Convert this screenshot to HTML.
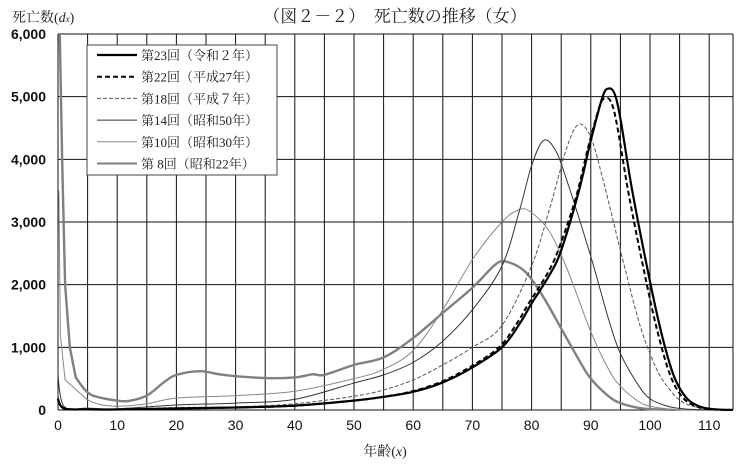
<!DOCTYPE html>
<html><head><meta charset="utf-8"><style>
body{margin:0;background:#fff;}
svg{display:block;font-family:"Liberation Sans","Noto Sans CJK JP",sans-serif;}
</style></head><body>
<svg id="s" width="743" height="464" xmlns="http://www.w3.org/2000/svg">
<g id="grid"></g>
<g id="curves"></g>
<text x="12" y="22" font-size="14" font-family="'Liberation Serif','Noto Serif CJK SC',serif" fill="#222">死亡数(<tspan font-style="italic">d</tspan><tspan font-style="italic" font-size="9">x</tspan>)</text>
<text x="395" y="22" font-size="17" text-anchor="middle" font-family="'Liberation Serif','Noto Serif CJK SC',serif" fill="#222">（図２－２）　死亡数の推移（女）</text>
<text x="385" y="456" font-size="14" text-anchor="middle" font-family="'Liberation Serif','Noto Serif CJK SC',serif" fill="#222">年齢(<tspan font-style="italic">x</tspan>)</text>
<g id="legend">
<rect x="87" y="45" width="190" height="130" fill="#fff" stroke="#444" stroke-width="1"/>
</g>
</svg>
<script>
var X0=58,PX=5.92,Y0=410,PY=376/6000;
function px(a){return X0+a*PX}function py(v){return Y0-v*PY}
var ns="http://www.w3.org/2000/svg";
function el(p,t,a){var e=document.createElementNS(ns,t);for(var k in a)e.setAttribute(k,a[k]);p.appendChild(e);return e}
var g=document.getElementById('grid');
for(var a=0;a<=113;a+=5){el(g,'line',{x1:px(a),x2:px(a),y1:34,y2:410,stroke:'#111','stroke-width':1});}
el(g,'line',{x1:733,x2:733,y1:34,y2:410,stroke:'#111','stroke-width':1});
for(var v=0;v<=6000;v+=1000){el(g,'line',{x1:58,x2:733,y1:py(v),y2:py(v),stroke:'#111','stroke-width':1});
var t=el(g,'text',{x:46,y:py(v)+5,'font-size':14,'text-anchor':'end',fill:'#111','font-weight':'bold'});t.textContent=v==0?'0':(v/1000)+',000';}
for(var a=0;a<=110;a+=10){var t=el(g,'text',{x:px(a),y:430,'font-size':14,'text-anchor':'middle',fill:'#111'});t.textContent=a;}
function path(d){var p=d.map(function(q){return[px(q[0]),py(q[1])]});var s='M'+p[0][0]+','+p[0][1];
for(var i=0;i<p.length-1;i++){var p0=p[i-1]||p[i],p1=p[i],p2=p[i+1],p3=p[i+2]||p2;
var c1=[p1[0]+(p2[0]-p0[0])/6,p1[1]+(p2[1]-p0[1])/6],c2=[p2[0]-(p3[0]-p1[0])/6,p2[1]-(p3[1]-p1[1])/6];
if(i==0){c1=p1;}s+=' C'+c1+' '+c2+' '+p2;}return s}
function poly(d){return 'M'+d.map(function(q){return px(q[0])+','+py(q[1])}).join(' L')}
var R2=[[0,180],[1,25],[5,10],[10,8],[20,25],[30,40],[40,70],[50,150],[55,210],[60,290],[65,440],[70,680],[75,1000],[78,1380],[80,1700],[83,2150],[85,2550],[88,3500],[90,4300],[92,5000],[93,5130],[94,5050],[95,4650],[97,3500],[100,2050],[102,1200],[104,550],[106,210],[108,70],[110,20],[112,5],[114,1]];
var H27=R2.map(function(q){var a=q[0];if(a>=60){a=a-0.5}return[a,q[1]*(q[0]>=88?0.97:1)]});
var H7=[[0,250],[1,35],[5,15],[10,10],[20,40],[30,50],[40,100],[50,220],[55,320],[60,480],[65,720],[70,1000],[75,1350],[80,2300],[83,3200],[86,4200],[88,4560],[90,4350],[92,3700],[95,2550],[98,1450],[100,900],[102,500],[105,160],[108,40],[111,8],[114,1]];
var S50=[[0,600],[1,60],[5,30],[10,20],[20,80],[30,110],[40,170],[50,430],[55,560],[60,760],[65,1100],[70,1600],[75,2300],[78,3200],[80,3900],[82,4300],[84,4150],[86,3650],[90,2450],[93,1450],[95,900],[98,400],[100,180],[103,60],[106,15],[110,2]];
var S30i=[[0.15,3500],[0.4,1200],[1.2,480],[5,160]];
var S30=[[5,160],[7,90],[10,60],[15,100],[20,190],[30,230],[40,300],[50,500],[55,650],[60,950],[65,1600],[70,2400],[75,3000],[78,3200],[80,3150],[83,2850],[86,2250],[90,1250],[93,650],[95,380],[98,140],[100,60],[104,10],[108,1]];
var S22i=[[0.3,6000],[0.5,5000],[0.7,4000],[1.2,2000],[2,1000],[3,520]];
var S22=[[3,520],[5,280],[7,200],[10,150],[12,145],[15,230],[18,450],[20,560],[24,620],[28,560],[35,510],[40,520],[43,570],[45,560],[50,720],[55,840],[60,1150],[65,1550],[70,1950],[74,2330],[76,2360],[79,2200],[82,1800],[85,1300],[88,800],[90,500],[93,220],[95,110],[98,35],[100,15],[104,2]];
var c=document.getElementById('curves');
var st=[[poly(S22i)+' '+path(S22).replace('M',' L'),'#808080',2.4,''],[poly(S30i)+' '+path(S30).replace('M',' L'),'#888',1,''],[path(S50),'#333',1,''],[path(H7),'#555',1,'4,2'],[path(H27),'#000',2,'5,3'],[path(R2),'#000',2.2,'']];
st.forEach(function(s){var a={d:s[0],fill:'none',stroke:s[1],'stroke-width':s[2],'stroke-linejoin':'round'};if(s[3])a['stroke-dasharray']=s[3];el(c,'path',a)});
var L=document.getElementById('legend');
var items=[['第23回（令和２年）','#000',2.2,''],['第22回（平成27年）','#000',2,'5,3'],['第18回（平成７年）','#555',1,'4,2'],['第14回（昭和50年）','#333',1,''],['第10回（昭和30年）','#888',1,''],['第 8回（昭和22年）','#808080',2,'']];
items.forEach(function(it,i){var y=55+i*21.7;var a={x1:97,x2:137,y1:y,y2:y,stroke:it[1],'stroke-width':it[2]};if(it[3])a['stroke-dasharray']=it[3];el(L,'line',a);
var t=el(L,'text',{x:141,y:y+5,'font-size':13,fill:'#222','font-family':"'Liberation Serif','Noto Serif CJK SC',serif"});t.textContent=it[0];});
</script>
</body></html>
